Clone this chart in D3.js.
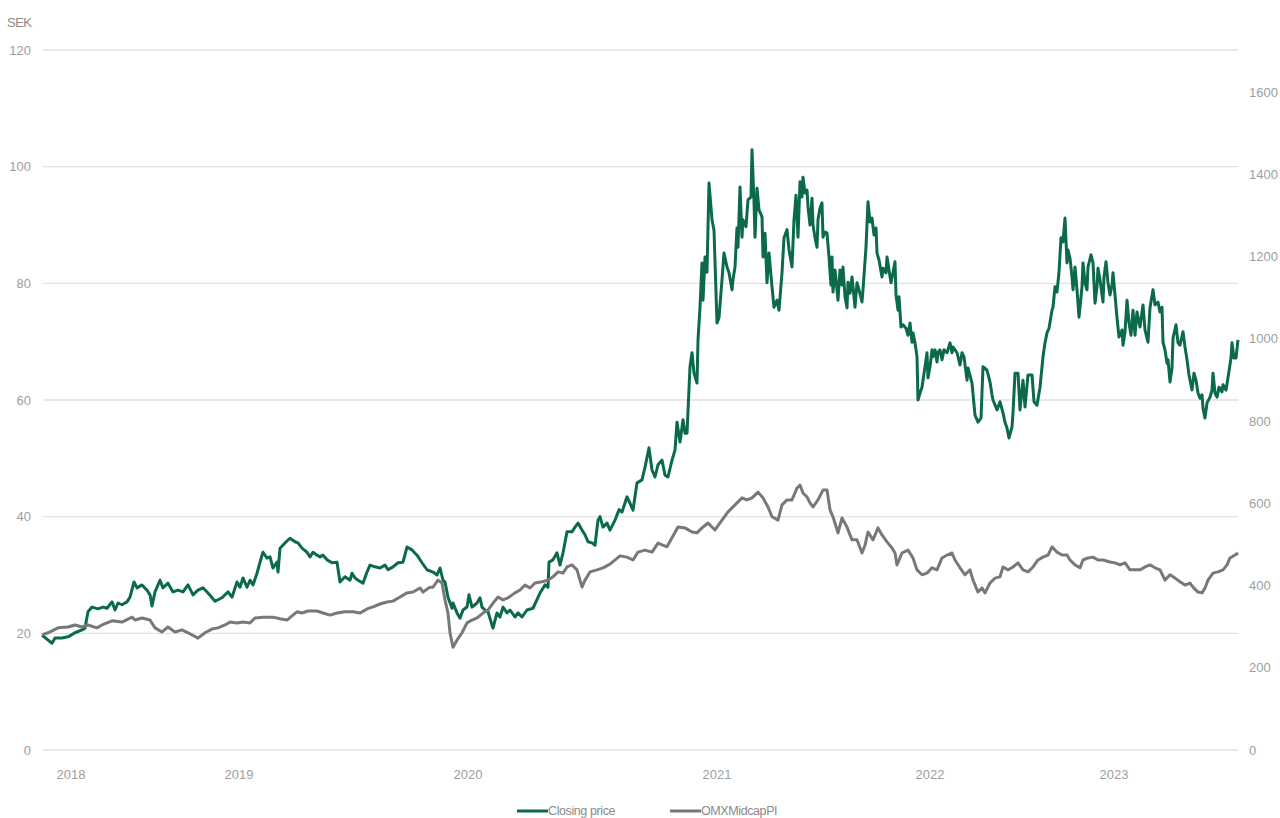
<!DOCTYPE html>
<html>
<head>
<meta charset="utf-8">
<script src="https://cdn.jsdelivr.net/npm/d3@7/dist/d3.min.js"></script>
<style>
  html, body { margin: 0; padding: 0; background: #fff; }
  svg { display: block; }
  text { font-family: "Liberation Sans", Arial, Helvetica, sans-serif; }
</style>
</head>
<body>
<svg id="chart" width="1280" height="818"></svg>
<script>
// ---- Data (x = weeks since start of series, ~April 2018) ----
const leftTicks = [0, 20, 40, 60, 80, 100, 120];
const rightTicks = [0, 200, 400, 600, 800, 1000, 1200, 1400, 1600];
const yearLabels = ["2018", "2019", "2020", "2021", "2022", "2023"];
const yearLabelWeeks = [7.25, 49.25, 106.5, 168.75, 222, 268];
const seriesNames = ["Closing price", "OMXMidcapPI"];

const closingPrice = [
[0,19.7],[2.5,18.3],[3.25,19.2],[5,19.2],[6.5,19.4],[8.25,20.1],[10,20.6],[10.75,20.9],[11.5,23.7],[12.5,24.5],
[14,24.2],[15.25,24.5],[16.25,24.3],[17.5,25.4],[18.25,24.0],[19,25.2],[20,24.9],[21.25,25.4],[22,26.2],[23,28.8],
[23.75,27.8],[25,28.3],[26.25,27.4],[27,26.6],[27.5,24.7],[28.25,27.1],[29.5,29.1],[30.25,27.8],[31.5,28.6],[32.75,27.1],
[34,27.4],[35.25,27.1],[36.5,28.3],[37.75,26.6],[39,27.4],[40.25,27.8],[41.5,26.9],[43.25,25.5],[45,26.1],[46.5,27.1],
[47.5,26.2],[48.75,28.8],[49.5,27.9],[50.25,29.5],[51.25,27.9],[52,29.1],[52.75,28.3],[53.75,30.3],[55,33.4],[55.25,33.9],
[56.25,32.9],[57,33.1],[57.75,31.2],[58.75,32.2],[59,30.5],[59.5,34.6],[60.75,35.5],[62,36.3],[63.25,35.7],[64,35.5],
[65,34.6],[66.25,33.9],[67,33.1],[67.75,33.9],[68.75,33.4],[69.5,33.1],[70.25,33.4],[71.25,32.6],[72.5,32.1],[73.75,32.2],
[74.5,28.8],[75.75,29.7],[77,29.1],[77.5,30.3],[78.25,29.5],[79,29.1],[80.25,28.6],[81.25,30.5],[82,31.7],[83.25,31.4],
[84.5,31.2],[85.75,31.7],[86.5,30.9],[87.75,31.4],[89,32.1],[90.25,32.2],[91.25,34.8],[92.5,34.3],[93.75,33.4],[95,32.1],
[96.25,30.9],[97.75,30.5],[98.75,30.0],[99.5,31.2],[100.25,29.1],[100.75,28.8],[101.5,26.2],[102.5,24.3],[102.75,25.2],[103.75,23.5],
[104.5,22.6],[105.25,24.0],[106.25,24.5],[106.75,26.6],[107.5,24.5],[108.75,25.2],[109.5,26.1],[110,24.5],[110.75,24.0],[111.5,23.7],
[112.5,21.4],[112.75,20.9],[113.75,23.5],[114.5,22.8],[115.25,24.5],[116.25,23.5],[117,24.0],[118.25,22.8],[119,23.5],[120,22.8],
[121.25,24.0],[122.75,24.3],[124.5,26.9],[125.75,28.3],[126.5,27.9],[126.75,32.2],[127.75,32.6],[128.75,33.8],[129.5,31.7],[130.25,33.8],
[131.25,37.4],[132.5,37.4],[133.25,38.2],[134,38.9],[135,37.7],[135.75,36.9],[136.5,35.7],[137.5,35.5],[138.25,35.1],[139,39.4],
[139.5,40.0],[140.25,38.2],[141.25,38.9],[142,37.7],[143.25,39.4],[144.25,41.2],[145,40.8],[146.25,43.4],[147,42.3],[147.75,41.1],
[148.75,45.8],[150,46.3],[150.75,48.5],[151.75,51.8],[152.5,48.0],[153.25,46.8],[154,48.9],[155,49.7],[155.75,47.1],[156.5,46.8],
[157.5,49.7],[158.25,51.4],[158.75,56.2],[159.5,52.8],[160.25,56.6],[160.75,54.3],[161.25,54.3],[162,65.7],[162.5,68.1],[163,64.6],
[163.75,62.9],[164,70.3],[164.5,75.9],[165,83.5],[165.25,77.1],[165.75,84.5],[166.25,81.9],[166.75,97.2],[167.5,90.9],[168,89.1],
[168.75,73.2],[169.25,74.1],[170,80.6],[170.5,85.2],[171.25,82.8],[171.75,81.8],[172.5,78.9],[172.75,80.6],[173.25,82.8],[173.75,89.5],
[174,86.2],[174.5,96.5],[175,87.9],[175.25,90.9],[176,89.7],[176.5,94.3],[177.25,94.8],[177.5,102.9],[178,93.9],[178.25,87.9],
[178.75,96.3],[179.25,92.6],[180,91.4],[180.25,84.5],[180.75,88.6],[181.25,80.1],[181.75,85.2],[182.5,79.4],[183,75.9],[183.75,77.1],
[184.25,75.4],[185,81.8],[185.5,87.8],[186.25,89.2],[186.75,85.8],[187.5,82.8],[188,90.9],[188.5,95.1],[189,87.9],[189.5,97.4],
[190,94.8],[190.25,98.2],[190.75,95.5],[191.25,96.0],[191.5,93.1],[192,90.0],[192.5,94.6],[192.75,90.0],[193.25,87.8],[193.75,86.2],
[194,90.9],[194.5,92.9],[195,93.8],[195.25,87.9],[195.75,88.8],[196.25,88.6],[196.75,84.5],[197.25,79.7],[197.5,84.5],[197.75,78.5],
[198.25,82.3],[198.75,78.9],[199,77.1],[199.5,82.3],[200,79.7],[200.25,82.8],[200.75,77.7],[201.25,75.8],[201.5,80.2],[202,78.3],
[202.5,81.1],[202.75,79.4],[203.25,75.9],[203.75,80.1],[204.25,78.9],[205,76.8],[205.25,78.9],[206,86.2],[206.5,94.0],[207,90.5],
[207.5,91.2],[208,88.3],[208.5,89.5],[208.75,85.2],[209.25,84.0],[210,81.1],[210.25,82.6],[211,81.8],[211.25,84.5],[211.75,82.3],
[212.25,80.1],[212.75,81.8],[213.25,83.7],[213.5,78.0],[214,75.4],[214.25,77.7],[214.75,72.5],[215.25,72.9],[216,72.3],[216.5,71.1],
[217,73.2],[217.5,69.9],[217.75,71.5],[218.25,69.8],[218.75,67.4],[219,60.0],[219.5,61.2],[220,62.2],[220.25,63.4],[220.75,65.7],
[221.25,68.1],[221.5,63.8],[222,65.7],[222.5,68.6],[222.75,67.4],[223.25,68.6],[223.75,66.5],[224,68.2],[224.5,68.6],[225,66.9],
[225.5,68.6],[226.25,68.1],[227,69.8],[227.5,68.1],[227.75,69.1],[228.75,68.1],[229.5,66.0],[230,68.1],[230.5,67.4],[231.25,63.4],
[231.5,65.5],[232.5,62.9],[233.25,57.4],[234,56.2],[234.75,56.9],[235.25,65.7],[236.25,65.1],[237,63.1],[237.5,60.9],[237.75,60.0],
[238.75,58.3],[239.5,59.7],[240.25,57.8],[240.75,56.2],[241.25,55.2],[241.75,53.5],[242.5,55.4],[242.75,57.8],[243.25,64.6],[244,64.6],
[244.5,58.3],[245.25,63.4],[245.75,58.8],[246.5,64.3],[247.5,64.3],[248,59.7],[248.75,59.1],[249.5,62.2],[250.25,67.4],[250.75,69.8],
[251.25,71.5],[251.75,72.3],[252.5,75.4],[252.75,75.9],[253.25,79.4],[253.75,78.5],[254.25,81.9],[254.75,87.8],[255.25,87.1],[255.75,91.2],
[256.25,83.5],[256.5,85.7],[257,84.3],[257.5,81.1],[257.75,78.9],[258.25,82.8],[258.75,78.9],[259.25,74.2],[260,79.4],[260.25,83.5],
[260.75,80.1],[261.25,78.9],[261.5,82.8],[262.25,84.9],[262.75,83.5],[263.25,76.6],[263.75,79.4],[264,82.6],[264.5,80.6],[265.25,76.8],
[265.5,81.1],[266,83.7],[266.5,80.1],[267,78.0],[267.5,79.7],[267.75,81.8],[268.25,78.0],[268.75,74.1],[269.25,70.8],[270,72.0],
[270.25,69.4],[270.75,71.7],[271.25,77.1],[271.75,73.2],[272.25,71.1],[272.75,75.4],[273.25,71.1],[273.75,75.1],[274.5,72.5],[275.25,76.3],
[275.75,72.0],[276.5,69.9],[277,75.8],[277.75,78.9],[278.25,76.3],[279,76.8],[279.5,75.1],[280,75.9],[280.25,69.9],[280.75,68.6],
[281.25,66.3],[281.5,66.9],[282,63.1],[282.5,65.5],[282.75,70.6],[283.5,72.9],[284,69.8],[284.5,69.4],[285.25,71.7],[285.75,69.1],
[286.25,66.9],[286.75,64.3],[287.5,61.7],[288,64.6],[288.5,63.4],[289,61.2],[289.5,60.3],[290,60.9],[290.25,58.6],[290.75,56.9],
[291.25,59.5],[292,60.5],[292.5,61.7],[292.75,64.6],[293.25,61.2],[293.75,60.5],[294.25,62.2],[295,61.4],[295.25,62.6],[296,61.7],
[296.5,63.8],[297.25,67.2],[297.5,69.8],[298,67.2],[298.5,67.2],[299,70.3]
];

const omxMidcap = [
[0,280],[1.5,285],[4,297],[6.5,299],[8.25,304],[10,299],[11.5,304],[13.75,297],[15,304],[17.5,314],
[20,311],[22.5,323],[23.25,316],[25,321],[27,316],[28.25,297],[30,287],[31.5,299],[33.25,287],[35,292],
[36.5,285],[39,272],[40.75,285],[42.5,294],[44,297],[45.75,304],[47,311],[48.75,309],[50.25,311],[52,309],
[53.25,321],[55.25,323],[57.75,323],[59.5,319],[61.25,316],[62.5,326],[63.75,336],[65,333],[66.5,338],[68.75,338],
[70.25,333],[72,328],[73.75,333],[75.75,336],[77.75,336],[79.5,333],[81.25,343],[82.75,348],[84.5,355],[86.25,360],
[87.75,362],[89.5,372],[91.25,382],[92.75,384],[94.5,394],[95.25,384],[97,396],[97.75,396],[99,413],[100,406],
[100.75,365],[101.5,333],[102,285],[102.75,250],[103.75,267],[105,285],[106.25,309],[107.5,316],[108.75,321],[110.25,333],
[111.5,340],[112.75,357],[114,372],[115.25,365],[116.5,370],[118.25,382],[119.5,389],[120.75,401],[122,394],[123.25,406],
[125,409],[126.5,413],[127.75,421],[129,433],[130.25,430],[131.25,445],[132.5,450],[133.75,438],[134.5,413],[135,396],
[135.75,413],[137,433],[138.75,438],[140.25,443],[142,452],[144.5,472],[146.25,469],[147.75,462],[149,481],[150.75,486],
[152.5,481],[154,503],[156.25,494],[157.5,516],[159,542],[160.75,540],[162.5,530],[163.75,528],[165,540],[166.5,552],
[168.25,535],[170,559],[171.5,579],[173.25,596],[175,613],[176.25,608],[177.5,613],[179,627],[180.25,613],[181.5,591],
[182.5,567],[184,559],[185,596],[186.25,608],[187.5,608],[188.75,637],[189.5,644],[190.25,625],[191.25,615],[192,601],
[192.75,591],[194,608],[195.25,632],[196.25,632],[197,584],[197.75,567],[199,528],[200,564],[201.25,542],[202.5,511],
[203.75,511],[205,479],[205.75,498],[206.5,530],[207.75,511],[209,540],[210,523],[211.25,506],[212.5,491],[213.25,479],
[213.75,450],[215,479],[216.5,486],[217.75,467],[218.75,438],[220,426],[221.25,430],[222.5,443],[223.75,438],[225,467],
[226.25,474],[227.5,479],[228.25,462],[229.5,443],[230.75,426],[232,438],[232.75,413],[234,384],[235,394],[235.75,382],
[237,406],[238.25,418],[239.5,421],[240.25,445],[241.5,438],[242.75,445],[244,455],[245.25,438],[246.5,433],[247.75,445],
[249,462],[250.25,469],[251.5,474],[252.5,494],[253.75,481],[255,474],[256.25,474],[257,462],[258.25,450],[259.5,443],
[260.25,462],[261.5,467],[262.75,469],[264,462],[265.25,462],[267,457],[268.25,455],[269.5,450],[270.75,455],[272,438],
[273.25,438],[274.5,438],[275.75,445],[277,450],[278.25,443],[279.5,438],[280.75,413],[282,426],[283.25,418],[284.5,409],
[285.75,401],[287,406],[287.75,396],[289,384],[290,382],[290.75,394],[291.5,413],[292.75,430],[294,433],[295.25,438],
[296.25,450],[297,467],[298.25,474],[299,479]
];

// ---- Chart ----
const svg = d3.select("#chart");
const colors = { green: "#0b6a4b", gray: "#78787b", grid: "#e2e2e2", label: "#9e9e9e" };

const x = d3.scaleLinear().domain([0, 299]).range([42, 1238]);
const yL = d3.scaleLinear().domain([0, 120]).range([750, 50]);
const yR = d3.scaleLinear().domain([0, 1702]).range([750, 50]);

// gridlines + left labels
const gl = svg.append("g");
gl.selectAll("line").data(leftTicks).join("line")
  .attr("x1", 43).attr("x2", 1238)
  .attr("y1", d => yL(d)).attr("y2", d => yL(d))
  .attr("stroke", colors.grid).attr("stroke-width", 1.3);
gl.selectAll("text").data(leftTicks).join("text")
  .attr("x", 31).attr("y", d => yL(d)).attr("dy", "0.35em")
  .attr("text-anchor", "end").attr("font-size", 13).attr("fill", colors.label)
  .text(d => d);

// right labels
svg.append("g").selectAll("text").data(rightTicks).join("text")
  .attr("x", 1249).attr("y", d => yR(d)).attr("dy", "0.35em")
  .attr("text-anchor", "start").attr("font-size", 13).attr("fill", colors.label)
  .text(d => d);

// unit label
svg.append("text").attr("x", 7).attr("y", 27).attr("font-size", 13)
  .attr("fill", "#8a8a8a").attr("letter-spacing", "-0.5").text("SEK");

// year labels
svg.append("g").selectAll("text").data(yearLabels).join("text")
  .attr("x", (d, i) => x(yearLabelWeeks[i])).attr("y", 774).attr("dy", "0.35em")
  .attr("text-anchor", "middle").attr("font-size", 13).attr("fill", colors.label)
  .text(d => d);

// lines
const lineL = d3.line().x(d => x(d[0])).y(d => yL(d[1]));
const lineR = d3.line().x(d => x(d[0])).y(d => yR(d[1]));

svg.append("path").datum(closingPrice).attr("d", lineL)
  .attr("fill", "none").attr("stroke", colors.green).attr("stroke-width", 3)
  .attr("stroke-linejoin", "round");
svg.append("path").datum(omxMidcap).attr("d", lineR)
  .attr("fill", "none").attr("stroke", colors.gray).attr("stroke-width", 3)
  .attr("stroke-linejoin", "round");

// legend
const legend = [
  { name: seriesNames[0], color: colors.green, x0: 517 },
  { name: seriesNames[1], color: colors.gray, x0: 670 }
];
const lg = svg.append("g");
legend.forEach(l => {
  lg.append("line").attr("x1", l.x0).attr("x2", l.x0 + 31).attr("y1", 811).attr("y2", 811)
    .attr("stroke", l.color).attr("stroke-width", 3);
  lg.append("text").attr("x", l.x0 + 31).attr("y", 811).attr("dy", "0.35em")
    .attr("font-size", 12.5).attr("fill", "#8a8a8a").attr("letter-spacing", "-0.4").text(l.name);
});
</script>
</body>
</html>
